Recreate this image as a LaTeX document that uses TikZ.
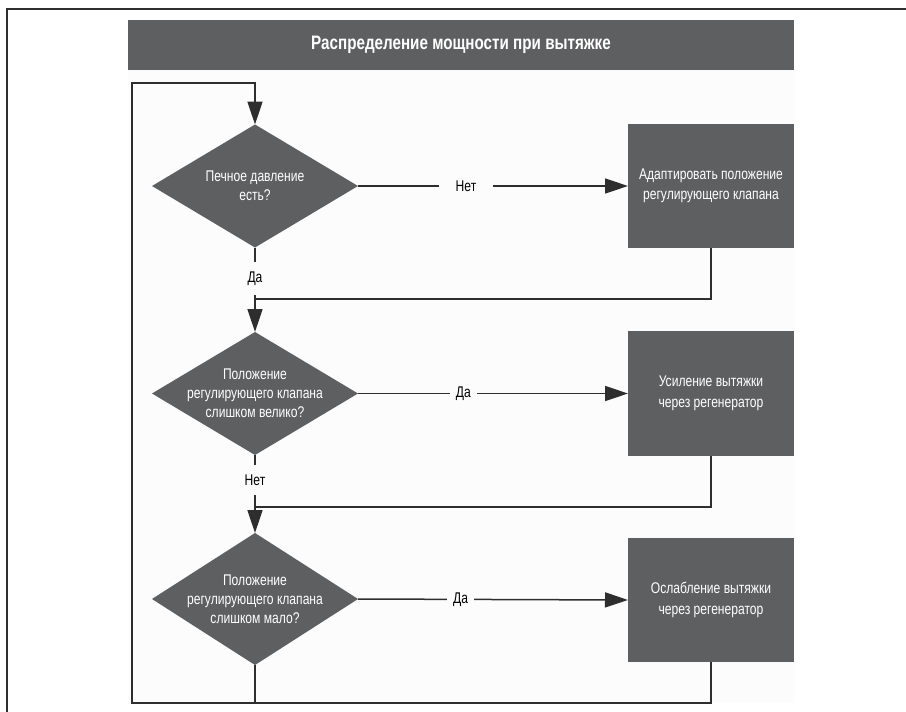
\documentclass[tikz,border=0pt]{standalone}
\usepackage{fontspec}
\setmainfont{Liberation Sans}[FakeStretch=0.78]
\usepackage{tikz}
\usetikzlibrary{shapes.geometric,arrows.meta}
\definecolor{boxgray}{HTML}{5E5F61}
\definecolor{linegray}{HTML}{2E2E2E}
\definecolor{panelbg}{HTML}{FCFCFC}
\tikzstyle{heading} = [fill=boxgray, text=white, minimum width=666pt, minimum height=50pt, font=\bfseries\fontsize{19.5}{23}\selectfont]
\tikzstyle{decision} = [diamond, fill=boxgray, text=white, inner sep=-18pt, outer sep=0pt, minimum width=206pt, minimum height=123pt, align=center, font=\fontsize{15.5}{19}\selectfont]
\tikzstyle{process} = [rectangle, fill=boxgray, text=white, outer sep=0pt, minimum width=166pt, minimum height=124pt, align=center, font=\fontsize{15.5}{20.5}\selectfont]
\tikzstyle{answer} = [fill=panelbg, inner ysep=10pt, font=\fontsize{15.5}{19}\selectfont]
\tikzstyle{flow} = [draw=linegray, line width=1.5pt]
\tikzstyle{arr} = [flow, -{Triangle[length=23pt,width=15pt]}]
\begin{document}
\begin{tikzpicture}[x=1pt,y=-1pt]
\useasboundingbox (0,0) rectangle (906,712);
% frame and panel
\fill[panelbg] (128,70) rectangle (794,703);
\draw[linegray, line width=1.2pt] (7,712) -- (7,9) -- (906,9);
\node[heading] (head) at (461,45) {Распределение мощности при вытяжке};
% decisions
\node[decision] (q1) at (255,186) {Печное давление\\есть?};
\node[decision] (q2) at (255,393.5) {Положение\\регулирующего клапана\\слишком велико?};
\node[decision, minimum height=132pt] (q3) at (255,599) {Положение\\регулирующего клапана\\слишком мало?};
% actions
\node[process] (adapt) at (711,186) {Адаптировать положение\\регулирующего клапана};
\node[process, minimum height=125pt] (raise) at (711,393.5) {Усиление вытяжки\\через регенератор};
\node[process] (lower) at (711,600) {Ослабление вытяжки\\через регенератор};
% joints
\coordinate (j1) at (255,299);
\coordinate (j2) at (255,507);
\coordinate (j3) at (255,703);
\coordinate (back) at (132,703);
\coordinate (top) at (132,83);
% connectors
\draw[arr] (q1.east) -- node[answer, pos=0.4, inner xsep=17pt] {Нет} (adapt.west);
\draw[flow] (q1.south) -- node[answer, pos=0.6] {Да} (j1);
\draw[flow] (adapt.south) |- (j1);
\draw[arr] (j1) -- (q2.north);
\draw[arr] (q2.east) -- node[answer, pos=0.39, inner xsep=6pt] {Да} (raise.west);
\draw[flow] (q2.south) -- node[answer, pos=0.48] {Нет} (j2);
\draw[flow] (raise.south) |- (j2);
\draw[arr] (j2) -- (q3.north);
\draw[arr] (q3.east) -- node[answer, pos=0.38, inner xsep=6pt] {Да} (lower.west);
\draw[flow] (q3.south) -- (j3);
\draw[arr] (lower.south) |- (back) -- (top) -| (q1.north);
\end{tikzpicture}
\end{document}
